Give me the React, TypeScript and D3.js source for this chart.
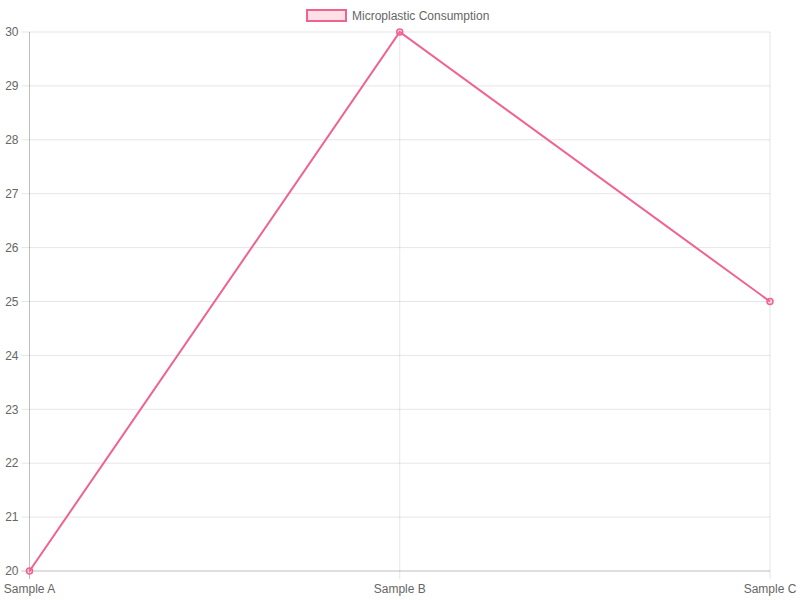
import * as d3 from 'd3';
import React from 'react';

const width = 800;
const height = 600;
const margin = { top: 32, right: 30, bottom: 29, left: 29.5 };

const categories = ['Sample A', 'Sample B', 'Sample C'];
const values = [20, 30, 25];
const yTicks = [20, 21, 22, 23, 24, 25, 26, 27, 28, 29, 30];
const seriesName = 'Microplastic Consumption';

const stroke = 'rgb(240, 98, 146)';
const fill = 'rgba(255, 99, 132, 0.2)';
const font = '"Liberation Sans", Arial, Helvetica, sans-serif';

export default function App() {
  const x = d3
    .scalePoint<string>()
    .domain(categories)
    .range([margin.left, width - margin.right]);
  const y = d3
    .scaleLinear()
    .domain([20, 30])
    .range([height - margin.bottom, margin.top]);

  const line = d3
    .line<number>()
    .x((_, i) => x(categories[i]) as number)
    .y((d) => y(d));

  return (
    <svg
      width={width}
      height={height}
      style={{ position: 'absolute', left: 0, top: 0, background: '#fff' }}
      fontFamily={font}
    >
      {/* horizontal grid */}
      {yTicks.map((t) => (
        <g key={t}>
          <line
            x1={margin.left - 8}
            x2={width - margin.right}
            y1={y(t)}
            y2={y(t)}
            stroke={t === 20 ? 'rgba(0,0,0,0.25)' : 'rgba(0,0,0,0.1)'}
          />
          <text
            x={margin.left - 11}
            y={y(t)}
            dy="0.35em"
            textAnchor="end"
            fontSize={12}
            fill="#666"
          >
            {t}
          </text>
        </g>
      ))}
      {/* vertical grid */}
      {categories.map((c, i) => (
        <g key={c}>
          <line
            x1={x(c)}
            x2={x(c)}
            y1={margin.top}
            y2={height - margin.bottom + 8}
            stroke={i === 0 ? 'rgba(0,0,0,0.25)' : 'rgba(0,0,0,0.1)'}
          />
          <text
            x={x(c)}
            y={height - margin.bottom + 22}
            textAnchor="middle"
            fontSize={12}
            fill="#666"
          >
            {c}
          </text>
        </g>
      ))}
      <path d={line(values) ?? ''} fill="none" stroke={stroke} strokeWidth={2} />
      {values.map((v, i) => (
        <circle
          key={i}
          cx={x(categories[i])}
          cy={y(v)}
          r={3}
          fill={fill}
          stroke={stroke}
          strokeWidth={1.5}
        />
      ))}
      {/* legend */}
      <rect x={307} y={10} width={39} height={11} fill={fill} stroke={stroke} strokeWidth={2} />
      <text x={352} y={20} fontSize={12} fill="#666">
        {seriesName}
      </text>
    </svg>
  );
}
